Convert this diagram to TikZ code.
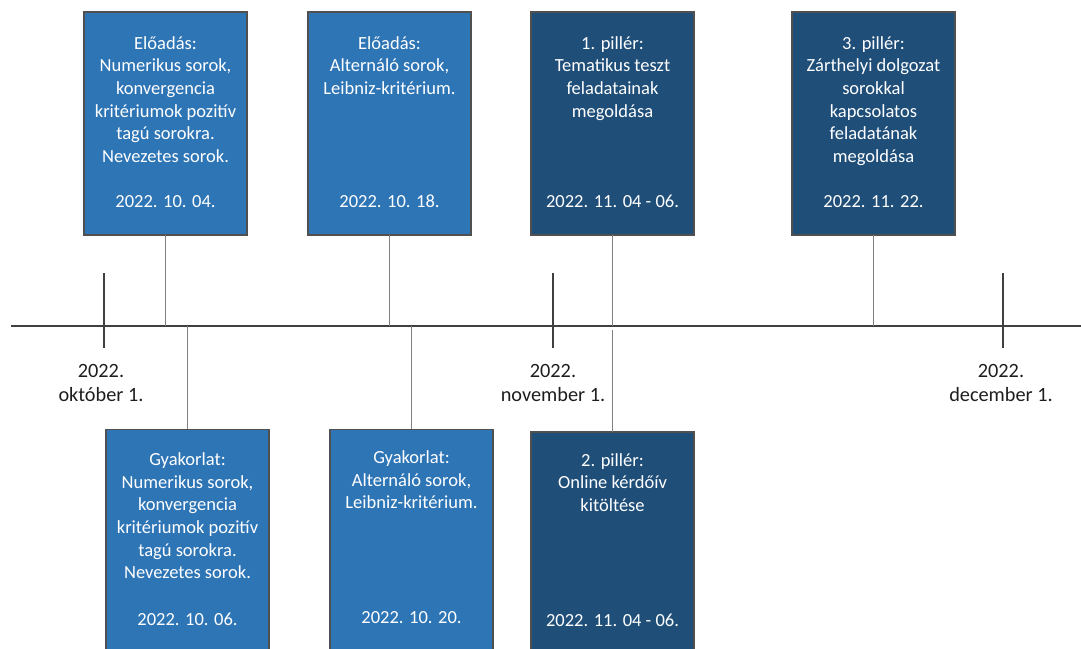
\documentclass[tikz,border=0pt]{standalone}
\usepackage{fontspec}
\setmainfont{Carlito}
\definecolor{LecBlue}{RGB}{46,117,182}
\definecolor{PillarBlue}{RGB}{31,78,121}
\definecolor{EdgeGray}{RGB}{80,80,80}
\definecolor{AxisGray}{RGB}{64,64,64}
\definecolor{LinkGray}{RGB}{128,128,128}
\definecolor{MonthText}{RGB}{30,30,30}
\newcommand\cardfont{\fontsize{18.5}{22.6}\selectfont}
\newcommand\monthfont{\fontsize{20.3}{24.8}\selectfont}
\usetikzlibrary{positioning}

\begin{document}
\begin{tikzpicture}[
      x=1pt, y=1pt,
      card/.style      ={draw=EdgeGray, line width=1.2pt, minimum width=163pt, minimum height=223pt,
                         inner sep=0pt, outer sep=0pt},
      lecbox/.style    ={card, fill=LecBlue},
      pilbox/.style    ={card, fill=PillarBlue},
      cardtitle/.style ={font=\cardfont, text=white, align=center, inner sep=0pt, anchor=north},
      carddate/.style  ={font=\cardfont, text=white, inner sep=0pt, anchor=base},
      monthtick/.style ={draw=AxisGray, line width=2.4pt},
      axis/.style      ={draw=AxisGray, line width=2pt},
      conn/.style      ={draw=LinkGray, line width=1pt},
      monthlbl/.style  ={font=\monthfont, text=MonthText, align=center, inner sep=0pt},
  ]
  \clip (0,0) rectangle (1081,648);

  % ─ Timeline and month ticks ─
  \coordinate (tl-start) at (11,321.5);
  \coordinate (tl-end)   at (1081,321.5);
  \coordinate (oct)      at (104,321.5);
  \coordinate (nov)      at (553,321.5);
  \coordinate (dec)      at (1003,321.5);

  \draw[axis] (tl-start) -- (tl-end);
  \draw[monthtick] ([yshift=53.5pt]oct) -- ([yshift=-21.5pt]oct);
  \draw[monthtick] ([yshift=53.5pt]nov) -- ([yshift=-21.5pt]nov);
  \draw[monthtick] ([yshift=53.5pt]dec) -- ([yshift=-21.5pt]dec);

  \node[monthlbl, below=33pt of oct, xshift=-3pt] (oct-l) {\strut 2022.\\október 1.};
  \node[monthlbl, below=33pt of nov]              (nov-l) {\strut 2022.\\november 1.};
  \node[monthlbl, below=33pt of dec, xshift=-2pt] (dec-l) {\strut 2022.\\december 1.};

  % ─ Upper row: lectures and pillars 1, 3 ─
  \node[lecbox] at (165.5,524.5)         (lec1) {};
  \node[lecbox, right=61pt of lec1]      (lec2) {};
  \node[pilbox, right=60pt of lec2]      (pil1) {};
  \node[pilbox, right=98pt of pil1]      (pil3) {};

  % ─ Lower row: seminars and pillar 2 ─
  \node[lecbox, anchor=north west] at (106,218.5) (sem1) {};
  \node[lecbox, right=61pt of sem1]      (sem2) {};
  \node[pilbox, below=197pt of pil1]     (pil2) {};

  % ─ Card texts ─
  \node[cardtitle, below=21.2pt of lec1.north] (lec1-t)
        {\strut Előadás:\\Numerikus sorok,\\konvergencia\\kritériumok pozitív\\tagú sorokra.\\Nevezetes sorok.};
  \node[carddate] at ([yshift=-196pt]lec1.north) (lec1-d) {2022. 10. 04.};

  \node[cardtitle, below=21.2pt of lec2.north] (lec2-t)
        {\strut Előadás:\\Alternáló sorok,\\Leibniz-kritérium.};
  \node[carddate] at ([yshift=-196pt]lec2.north) (lec2-d) {2022. 10. 18.};

  \node[cardtitle, below=21.2pt of pil1.north] (pil1-t)
        {\strut 1. pillér:\\Tematikus teszt\\feladatainak\\megoldása};
  \node[carddate] at ([yshift=-196pt]pil1.north) (pil1-d) {2022. 11. 04 - 06.};

  \node[cardtitle, below=21.2pt of pil3.north] (pil3-t)
        {\strut 3. pillér:\\Zárthelyi dolgozat\\sorokkal\\kapcsolatos\\feladatának\\megoldása};
  \node[carddate] at ([yshift=-196pt]pil3.north) (pil3-d) {2022. 11. 22.};

  \node[cardtitle, below=20.2pt of sem1.north] (sem1-t)
        {\strut Gyakorlat:\\Numerikus sorok,\\konvergencia\\kritériumok pozitív\\tagú sorokra.\\Nevezetes sorok.};
  \node[carddate] at ([yshift=-196pt]sem1.north) (sem1-d) {2022. 10. 06.};

  \node[cardtitle, below=18.2pt of sem2.north] (sem2-t)
        {\strut Gyakorlat:\\Alternáló sorok,\\Leibniz-kritérium.};
  \node[carddate] at ([yshift=-194pt]sem2.north) (sem2-d) {2022. 10. 20.};

  \node[cardtitle, below=18.2pt of pil2.north] (pil2-t)
        {\strut 2. pillér:\\Online kérdőív\\kitöltése};
  \node[carddate] at ([yshift=-194pt]pil2.north) (pil2-d) {2022. 11. 04 - 06.};

  % ─ Connectors to the timeline ─
  \draw[conn] (lec1.south) -- (lec1.south |- tl-start);
  \draw[conn] (lec2.south) -- (lec2.south |- tl-start);
  \draw[conn] (pil1.south) -- (pil1.south |- tl-start);
  \draw[conn] (pil3.south) -- (pil3.south |- tl-start);
  \draw[conn] (sem1.north |- tl-start) -- (sem1.north);
  \draw[conn] (sem2.north |- tl-start) -- (sem2.north);
  \draw[conn] ([yshift=-4pt]pil2.north |- tl-start) -- (pil2.north);
\end{tikzpicture}
\end{document}
